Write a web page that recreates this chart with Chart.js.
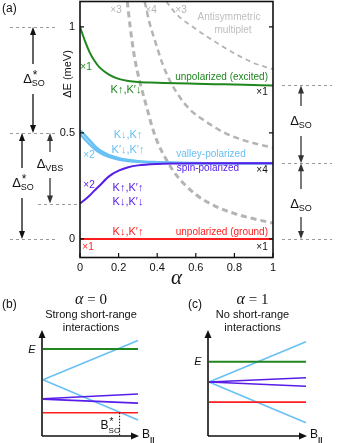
<!DOCTYPE html>
<html>
<head>
<meta charset="utf-8">
<script src="https://cdn.jsdelivr.net/npm/chart.js@4.4.1/dist/chart.umd.min.js"></script>
<style>
  body { margin: 0; background: #fff; }
  #wrap { position: relative; width: 339px; height: 443px; overflow: hidden; }
  canvas { position: absolute; }
</style>
</head>
<body>
<div id="wrap">
  <canvas id="chartA" width="339" height="290" style="left:0;top:0"></canvas>
  <canvas id="chartB" width="170" height="153" style="left:0;top:290px"></canvas>
  <canvas id="chartC" width="169" height="153" style="left:170px;top:290px"></canvas>
</div>
<script>
// ---- panel (a) data: energy levels vs alpha ----
const alpha = [0, 0.025, 0.05, 0.075, 0.1, 0.15, 0.2, 0.25, 0.3, 0.4, 0.5, 0.6, 0.7, 0.8, 0.9, 1];
const excited = [1.0, 0.935, 0.88, 0.84, 0.81, 0.775, 0.755, 0.745, 0.74, 0.737, 0.734, 0.732, 0.73, 0.728, 0.726, 0.724];
const valleyUpper = [0.512, 0.49, 0.465, 0.44, 0.42, 0.395, 0.381, 0.372, 0.367, 0.362, 0.359, 0.358, 0.357, 0.357, 0.357, 0.357];
const valleyLower = [0.494, 0.47, 0.446, 0.425, 0.408, 0.387, 0.375, 0.368, 0.364, 0.36, 0.358, 0.357, 0.357, 0.357, 0.357, 0.357];
const spinPol = [0.167, 0.185, 0.205, 0.228, 0.25, 0.295, 0.322, 0.338, 0.347, 0.354, 0.356, 0.357, 0.357, 0.357, 0.357, 0.357];
const ground = [0, 0, 0, 0, 0, 0, 0, 0, 0, 0, 0, 0, 0, 0, 0, 0];

// antisymmetric multiplet (grey dashed)
const multA_alpha = [0.245, 0.26, 0.28, 0.31, 0.34, 0.37, 0.40, 0.45, 0.5, 0.6, 0.7, 0.8, 0.9, 1];
const multA_dE = [1.12, 1.0, 0.87, 0.74, 0.64, 0.54, 0.46, 0.37, 0.30, 0.21, 0.155, 0.12, 0.095, 0.075];
const multB_alpha = [0.335, 0.36, 0.39, 0.43, 0.475, 0.52, 0.57, 0.65, 0.75, 0.85, 1];
const multB_dE = [1.12, 1.02, 0.93, 0.82, 0.73, 0.665, 0.61, 0.555, 0.5, 0.465, 0.43];
const multC_alpha = [0.447, 0.5, 0.6, 0.7, 0.8, 0.9, 1];
const multC_dE = [1.12, 1.06, 0.99, 0.93, 0.875, 0.83, 0.80];

const alphaTicks = [0, 0.2, 0.4, 0.6, 0.8, 1];
const dETicks = [0, 0.5, 1];

// ---- panels (b), (c): schematic Zeeman splitting ----
const fieldEnds = [0.01, 0.99];
const bGreen = [0.82, 0.82];
const bBlueUp = [0.53, 0.90];
const bBlueDown = [0.53, 0.15];
const bPurpleUp = [0.352, 0.396];
const bPurpleDown = [0.348, 0.31];
const bRed = [0.22, 0.22];
const bCrossing = 0.80; // B*_SO

const cGreen = [0.70, 0.70];
const cBlueUp = [0.51, 0.89];
const cBlueDown = [0.51, 0.125];
const cPurpleUp = [0.51, 0.55];
const cPurpleDown = [0.51, 0.47];
const cRed = [0.32, 0.32];

const GREEN = 'rgb(32,135,32)';
const BLUE = 'rgb(105,192,245)';
const PURPLE = 'rgb(88,30,232)';
const RED = 'rgb(255,30,30)';
const GREY = 'rgb(180,180,180)';
const SANS = '"Liberation Sans", Arial, sans-serif';
const SERIF = '"Liberation Serif", "Times New Roman", serif';

const pts = (xs, ys) => xs.map((x, i) => ({ x: x, y: ys[i] }));

// Small drawing helpers
const draw = {
    text: (ctx, str, x, y, color, size, align) => {
        ctx.save();
        ctx.font = size + 'px ' + SANS;
        ctx.fillStyle = color;
        ctx.textAlign = align || 'center';
        ctx.textBaseline = 'middle';
        ctx.fillText(str, x, y);
        ctx.restore();
    },

    // Δ with subscript (and optional star superscript), centred at cx
    delta: (ctx, cx, cy, sub, star, color) => {
        ctx.save();
        ctx.fillStyle = color;
        ctx.textBaseline = 'alphabetic';
        ctx.font = '13px ' + SANS;
        const wD = ctx.measureText('\u0394').width;
        ctx.font = '9px ' + SANS;
        const wS = ctx.measureText(sub).width;
        const x0 = cx - (wD + wS) / 2;
        ctx.font = '13px ' + SANS;
        ctx.fillText('\u0394', x0, cy + 5);
        ctx.font = '9px ' + SANS;
        ctx.fillText(sub, x0 + wD, cy + 8);
        if (star) {
            ctx.font = '12px ' + SANS;
            ctx.fillText('*', x0 + wD + 1, cy + 1);
        }
        ctx.restore();
    },

    dashH: (ctx, x1, x2, y) => {
        ctx.save();
        ctx.strokeStyle = '#9a9a9a';
        ctx.lineWidth = 1;
        ctx.setLineDash([3, 3]);
        ctx.beginPath();
        ctx.moveTo(x1, Math.round(y) + 0.5);
        ctx.lineTo(x2, Math.round(y) + 0.5);
        ctx.stroke();
        ctx.restore();
    },

    head: (ctx, x, tipY, dir, color) => {
        // dir = -1 points up, +1 points down
        ctx.save();
        ctx.fillStyle = color;
        ctx.beginPath();
        ctx.moveTo(x, tipY);
        ctx.lineTo(x - 3, tipY - dir * 8);
        ctx.lineTo(x + 3, tipY - dir * 8);
        ctx.closePath();
        ctx.fill();
        ctx.restore();
    },

    // double-headed vertical arrow with a gap for its label
    vArrow: (ctx, x, yTop, yBot, gapTop, gapBot, color) => {
        ctx.save();
        ctx.strokeStyle = color;
        ctx.lineWidth = 1.3;
        ctx.beginPath();
        ctx.moveTo(x, yTop + 4);
        ctx.lineTo(x, gapTop);
        ctx.moveTo(x, gapBot);
        ctx.lineTo(x, yBot - 4);
        ctx.stroke();
        ctx.restore();
        draw.head(ctx, x, yTop, -1, color);
        draw.head(ctx, x, yBot, 1, color);
    },

    // "α = n" with italic alpha
    alphaEq: (ctx, str, cx, cy) => {
        ctx.save();
        ctx.fillStyle = '#111';
        ctx.textBaseline = 'middle';
        ctx.font = 'italic 16px ' + SERIF;
        const wA = ctx.measureText('\u03b1').width;
        ctx.font = '15px ' + SERIF;
        const wR = ctx.measureText(str).width;
        const x0 = cx - (wA + wR) / 2;
        ctx.font = 'italic 16px ' + SERIF;
        ctx.fillText('\u03b1', x0, cy);
        ctx.font = '15px ' + SERIF;
        ctx.fillText(str, x0 + wA, cy);
        ctx.restore();
    }
};

// ---- panel (a) annotations ----
const panelAPlugin = {
    id: 'panelA',
    afterDraw: (chart) => {
        const ctx = chart.ctx;
        const a = chart.chartArea;
        const xs = chart.scales.x;
        const ys = chart.scales.y;
        const y1 = ys.getPixelForValue(1);
        const y05 = ys.getPixelForValue(0.5);
        const y0 = ys.getPixelForValue(0);
        const yVbs = ys.getPixelForValue(spinPol[0]);
        const ySpin = ys.getPixelForValue(spinPol[spinPol.length - 1]);
        const yExc = ys.getPixelForValue(excited[excited.length - 1]);

        // frame
        ctx.save();
        ctx.strokeStyle = '#111';
        ctx.lineWidth = 1.6;
        ctx.strokeRect(a.left, a.top + 0.5, a.right - a.left, a.bottom - a.top);
        // inward tick marks
        ctx.lineWidth = 1.2;
        ctx.beginPath();
        dETicks.forEach(v => {
            const py = ys.getPixelForValue(v);
            ctx.moveTo(a.left, py); ctx.lineTo(a.left + 4, py);
            ctx.moveTo(a.right, py); ctx.lineTo(a.right - 4, py);
        });
        alphaTicks.forEach(v => {
            const px = xs.getPixelForValue(v);
            ctx.moveTo(px, a.bottom); ctx.lineTo(px, a.bottom - 4);
        });
        ctx.stroke();
        ctx.restore();

        // axis titles
        ctx.save();
        ctx.translate(68, 74);
        ctx.rotate(-Math.PI / 2);
        ctx.font = '11px ' + SANS;
        ctx.fillStyle = '#111';
        ctx.textAlign = 'center';
        ctx.textBaseline = 'middle';
        ctx.fillText('\u0394E (meV)', 0, 0);
        ctx.restore();
        ctx.save();
        ctx.font = 'italic 21px ' + SERIF;
        ctx.fillStyle = '#111';
        ctx.textAlign = 'center';
        ctx.textBaseline = 'middle';
        ctx.fillText('\u03b1', (a.left + a.right) / 2, 278);
        ctx.restore();

        draw.text(ctx, '(a)', 2, 9, '#111', 12, 'left');

        // left-hand guide lines and gaps
        draw.dashH(ctx, 10, 58, y1);
        draw.dashH(ctx, 10, 58, y05);
        draw.dashH(ctx, 10, 58, y0);
        draw.dashH(ctx, 38, 78, yVbs);
        draw.vArrow(ctx, 33, y1, y05, 64, 94, '#111');
        draw.delta(ctx, 34, 78, 'SO', true, '#111');
        draw.vArrow(ctx, 22, y05, y0, 168, 198, '#111');
        draw.delta(ctx, 23, 182, 'SO', true, '#111');
        draw.vArrow(ctx, 50, y05, yVbs, 152, 178, '#333');
        draw.delta(ctx, 50, 163, 'VBS', false, '#111');

        // right-hand guide lines and gaps
        draw.dashH(ctx, 282, 332, yExc);
        draw.dashH(ctx, 282, 332, ySpin);
        draw.dashH(ctx, 282, 332, y0);
        draw.vArrow(ctx, 301, yExc, ySpin, 106, 136, '#333');
        draw.delta(ctx, 301, 120, 'SO', false, '#111');
        draw.vArrow(ctx, 301, ySpin, y0, 189, 217, '#333');
        draw.delta(ctx, 301, 203, 'SO', false, '#111');

        // labels inside the plot
        draw.text(ctx, '\u00d73', 116, 10, GREY, 10);
        draw.text(ctx, '\u00d74', 151, 10, GREY, 10);
        draw.text(ctx, '\u00d73', 181, 10, GREY, 10);
        draw.text(ctx, 'Antisymmetric', 229, 17, 'rgb(190,190,190)', 10);
        draw.text(ctx, 'multiplet', 233, 30, 'rgb(190,190,190)', 10);

        draw.text(ctx, '\u00d71', 86, 67, GREEN, 10);
        draw.text(ctx, 'K\u2191,K\u2032\u2193', 126, 90, GREEN, 11);
        draw.text(ctx, 'unpolarized (excited)', 268, 77, GREEN, 10, 'right');
        draw.text(ctx, '\u00d71', 262, 92, '#111', 10);

        draw.text(ctx, 'K\u2193,K\u2191', 128, 135, BLUE, 11);
        draw.text(ctx, 'K\u2032\u2193,K\u2032\u2191', 128, 150, BLUE, 11);
        draw.text(ctx, '\u00d72', 89, 155, BLUE, 10);
        draw.text(ctx, 'valley-polarized', 211, 154, BLUE, 10);

        draw.text(ctx, 'spin-polarized', 208, 168, PURPLE, 10);
        draw.text(ctx, '\u00d74', 262, 170, '#111', 10);
        draw.text(ctx, '\u00d72', 89, 185, PURPLE, 10);
        draw.text(ctx, 'K\u2191,K\u2032\u2191', 128, 188, PURPLE, 11);
        draw.text(ctx, 'K\u2193,K\u2032\u2193', 128, 202, PURPLE, 11);

        draw.text(ctx, 'K\u2193,K\u2032\u2191', 128, 232, RED, 11);
        draw.text(ctx, 'unpolarized (ground)', 268, 232, RED, 10, 'right');
        draw.text(ctx, '\u00d71', 88, 247, RED, 10);
        draw.text(ctx, '\u00d71', 262, 247, '#111', 10);
    }
};

const lineSet = (data, color, width, dash) => ({
    data: data,
    borderColor: color,
    borderWidth: width,
    borderDash: dash || [],
    pointRadius: 0,
    fill: false,
    cubicInterpolationMode: 'monotone'
});

new Chart(document.getElementById('chartA'), {
    type: 'line',
    data: {
        datasets: [
            lineSet(pts(alpha, ground), RED, 2),
            lineSet(pts(alpha, excited), GREEN, 2),
            lineSet(pts(alpha, spinPol), PURPLE, 2),
            lineSet(pts(alpha, valleyUpper), BLUE, 2.5),
            lineSet(pts(alpha, valleyLower), BLUE, 2.5),
            lineSet(pts(multA_alpha, multA_dE), GREY, 3, [6, 4]),
            lineSet(pts(multB_alpha, multB_dE), GREY, 2.5, [6, 4]),
            lineSet(pts(multC_alpha, multC_dE), GREY, 1.8, [5, 4])
        ]
    },
    options: {
        responsive: false,
        animation: false,
        layout: { padding: { top: 1, left: 40, right: 66, bottom: 0 } },
        plugins: { legend: { display: false }, tooltip: { enabled: false } },
        scales: {
            x: {
                type: 'linear',
                min: 0,
                max: 1,
                border: { display: false },
                grid: { display: false, drawTicks: false },
                afterBuildTicks: (scale) => { scale.ticks = alphaTicks.map(v => ({ value: v })); },
                afterFit: (scale) => {
                    scale.height = 33;
                    scale.paddingLeft = 0;
                    scale.paddingRight = 0;
                },
                ticks: {
                    padding: 4,
                    maxRotation: 0,
                    color: '#111',
                    font: { family: SANS, size: 11 },
                    callback: (v) => String(v)
                }
            },
            y: {
                type: 'linear',
                min: -0.085,
                max: 1.122,
                border: { display: false },
                grid: { display: false, drawTicks: false },
                afterBuildTicks: (scale) => { scale.ticks = dETicks.map(v => ({ value: v })); },
                afterFit: (scale) => {
                    scale.width = 40;
                    scale.paddingTop = 0;
                    scale.paddingBottom = 0;
                },
                ticks: {
                    padding: 5,
                    color: '#111',
                    font: { family: SANS, size: 11 },
                    callback: (v) => String(v)
                }
            }
        }
    },
    plugins: [panelAPlugin]
});

// ---- panels (b) and (c) ----
const schematicPlugin = (letter, alphaText, line1, line2, showCrossing) => ({
    id: 'schematic' + letter,
    afterDraw: (chart) => {
        const ctx = chart.ctx;
        const a = chart.chartArea;
        const cx = chart.width / 2 + (letter === 'b' ? 6 : -2);

        // axes with arrowheads
        ctx.save();
        ctx.strokeStyle = '#111';
        ctx.fillStyle = '#111';
        ctx.lineWidth = 1.6;
        ctx.beginPath();
        ctx.moveTo(a.left, a.bottom);
        ctx.lineTo(a.left, a.top + 6);
        ctx.moveTo(a.left, a.bottom);
        ctx.lineTo(a.right - 6, a.bottom);
        ctx.stroke();
        ctx.beginPath();
        ctx.moveTo(a.left, a.top);
        ctx.lineTo(a.left - 3.5, a.top + 8);
        ctx.lineTo(a.left + 3.5, a.top + 8);
        ctx.closePath();
        ctx.fill();
        ctx.beginPath();
        ctx.moveTo(a.right, a.bottom);
        ctx.lineTo(a.right - 8, a.bottom - 3.5);
        ctx.lineTo(a.right - 8, a.bottom + 3.5);
        ctx.closePath();
        ctx.fill();
        ctx.restore();

        // titles
        draw.text(ctx, '(' + letter + ')', letter === 'b' ? 2 : 18, 15, '#111', 12, 'left');
        draw.alphaEq(ctx, ' = ' + alphaText, cx, 10);
        draw.text(ctx, line1, cx, 25, '#111', 11);
        draw.text(ctx, line2, cx, 38, '#111', 11);

        // axis labels
        ctx.save();
        ctx.font = 'italic 11px ' + SANS;
        ctx.fillStyle = '#111';
        ctx.textAlign = 'center';
        ctx.textBaseline = 'middle';
        ctx.fillText('E', a.left - 10, letter === 'b' ? 60 : 72);
        ctx.font = '12px ' + SANS;
        ctx.textAlign = 'left';
        ctx.fillText('B', a.right + 3, a.bottom - 1);
        ctx.font = 'bold 8px ' + SANS;
        ctx.fillText('||', a.right + 11, a.bottom + 4);
        ctx.restore();

        if (showCrossing) {
            const px = chart.scales.x.getPixelForValue(bCrossing);
            const py = chart.scales.y.getPixelForValue(bRed[0]);
            ctx.save();
            ctx.strokeStyle = '#111';
            ctx.lineWidth = 1;
            ctx.setLineDash([1.5, 1.5]);
            ctx.beginPath();
            ctx.moveTo(px, py);
            ctx.lineTo(px, a.bottom);
            ctx.stroke();
            ctx.restore();
            ctx.save();
            ctx.fillStyle = '#111';
            ctx.textBaseline = 'alphabetic';
            ctx.font = '12px ' + SANS;
            ctx.fillText('B', px - 19, py + 16);
            ctx.font = '10px ' + SANS;
            ctx.fillText('*', px - 10, py + 12);
            ctx.font = '8px ' + SANS;
            ctx.fillText('SO', px - 11, py + 20);
            ctx.restore();
        }
    }
});

const schematicChart = (id, sets, plugin, pad) => new Chart(document.getElementById(id), {
    type: 'line',
    data: {
        datasets: sets.map(s => ({
            data: pts(fieldEnds, s[0]),
            borderColor: s[1],
            borderWidth: s[2],
            pointRadius: 0,
            fill: false
        }))
    },
    options: {
        responsive: false,
        animation: false,
        layout: { padding: pad },
        plugins: { legend: { display: false }, tooltip: { enabled: false } },
        scales: {
            x: { type: 'linear', min: 0, max: 1, display: false },
            y: { type: 'linear', min: 0, max: 1, display: false }
        }
    },
    plugins: [plugin]
});

schematicChart('chartB', [
    [bGreen, GREEN, 2],
    [bRed, RED, 1.6],
    [bPurpleUp, PURPLE, 1.6],
    [bPurpleDown, PURPLE, 1.6],
    [bBlueUp, BLUE, 1.6],
    [bBlueDown, BLUE, 1.6]
], schematicPlugin('b', '0', 'Strong short-range', 'interactions', true),
   { left: 42, right: 31, top: 40, bottom: 7 });

schematicChart('chartC', [
    [cGreen, GREEN, 2],
    [cRed, RED, 1.6],
    [cPurpleUp, PURPLE, 1.6],
    [cPurpleDown, PURPLE, 1.6],
    [cBlueUp, BLUE, 1.6],
    [cBlueDown, BLUE, 1.6]
], schematicPlugin('c', '1', 'No short-range', 'interactions', false),
   { left: 38, right: 32, top: 40, bottom: 7 });
</script>
</body>
</html>
